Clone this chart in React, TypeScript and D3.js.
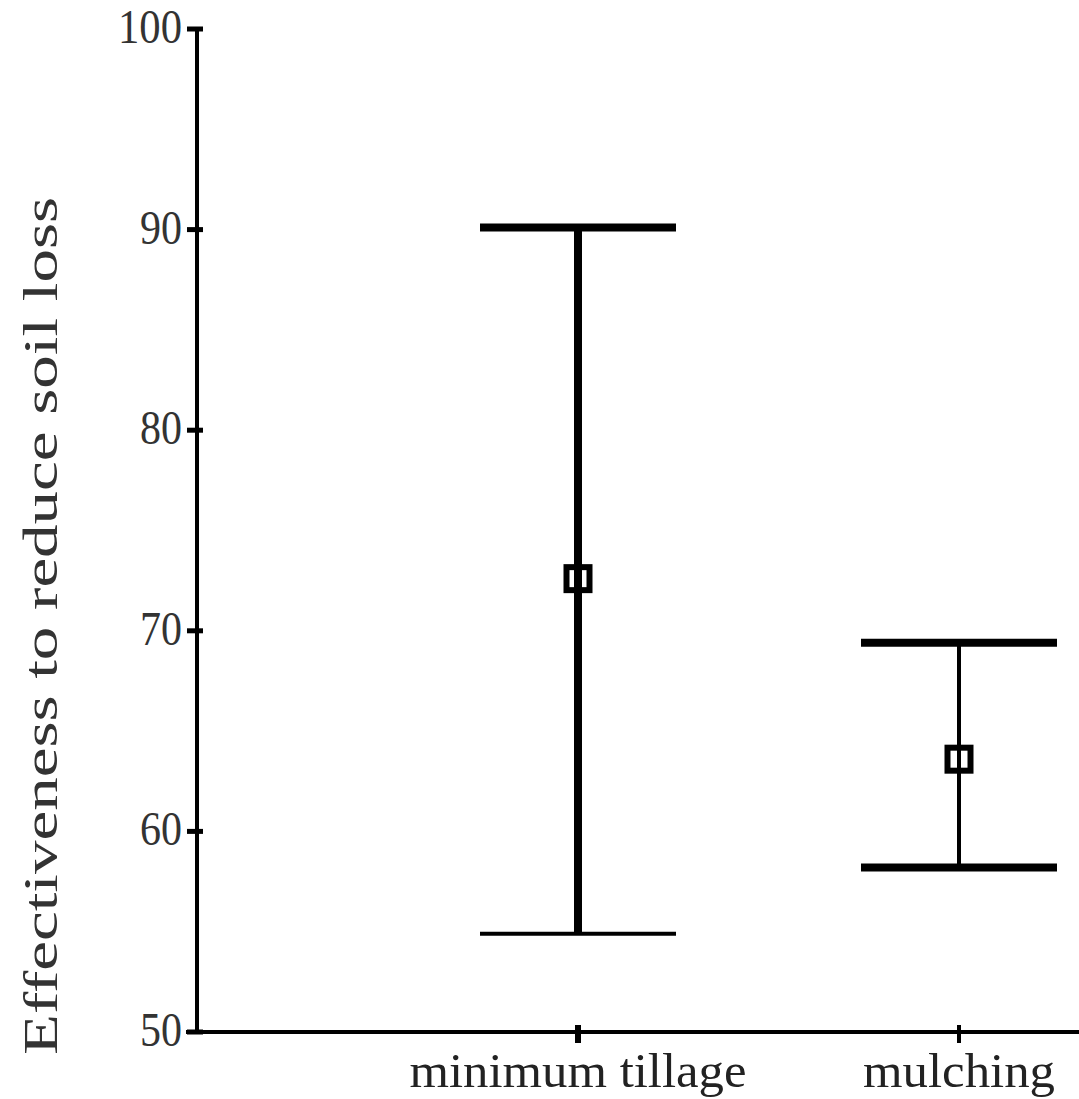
import * as d3 from "d3";

const categories = ["minimum tillage", "mulching"];
const means = [72.6, 63.6];
const upper = [90.1, 69.4];
const lower = [54.9, 58.2];
const yTicks = [50, 60, 70, 80, 90, 100];
const yLabel = "Effectiveness to reduce soil loss";

// line weights per series: [stem, top cap, bottom cap]
const weights = [
	[8, 8, 4],
	[4, 8, 8]
];

const width = 1079;
const height = 1099;
const axisX = 197;
const axisY = 1032;
const font = "'Liberation Serif', 'Times New Roman', serif";

export default function App() {
	const y = d3.scaleLinear().domain([50, 100]).range([axisY, 29]);
	const x = d3.scalePoint<string>().domain(["", ...categories]).range([axisX, 959]);

	const capHalf = 98;
	const box = 23;

	return (
		<svg
			width={width}
			height={height}
			style={{ position: "absolute", left: 0, top: 0, background: "#fff" }}
		>
			{/* y axis */}
			<line x1={axisX} x2={axisX} y1={y(100) - 2} y2={axisY + 2} stroke="#000" strokeWidth={4} />
			{yTicks.map(t => (
				<g key={t}>
					<line x1={axisX - 10} x2={axisX + 6} y1={y(t)} y2={y(t)} stroke="#000" strokeWidth={5} />
					<text
						x={182}
						y={y(t) + 14}
						textAnchor="end"
						fontFamily={font}
						fontSize={48}
						fill="#333"
						textLength={String(t).length === 3 ? 64 : 42}
						lengthAdjust="spacingAndGlyphs"
					>
						{t}
					</text>
				</g>
			))}

			{/* x axis */}
			<line x1={186} x2={width} y1={axisY} y2={axisY} stroke="#000" strokeWidth={4} />
			{categories.map((c, i) => (
				<g key={c}>
					<line
						x1={x(c)}
						x2={x(c)}
						y1={axisY - 7}
						y2={axisY + 11}
						stroke="#000"
						strokeWidth={i === 0 ? 6 : 4}
					/>
					<text
						x={x(c)}
						y={1087}
						textAnchor="middle"
						fontFamily={font}
						fontSize={48}
						fill="#222"
						textLength={i === 0 ? 337 : 192}
						lengthAdjust="spacingAndGlyphs"
					>
						{c}
					</text>
				</g>
			))}

			{/* error bars */}
			{categories.map((c, i) => {
				const cx = x(c) as number;
				const [stem, topW, botW] = weights[i];
				return (
					<g key={"bar-" + c}>
						<line x1={cx - capHalf} x2={cx + capHalf} y1={y(upper[i])} y2={y(upper[i])} stroke="#000" strokeWidth={topW} />
						<line x1={cx - capHalf} x2={cx + capHalf} y1={y(lower[i])} y2={y(lower[i])} stroke="#000" strokeWidth={botW} />
						<rect
							x={cx - box / 2}
							y={y(means[i]) - box / 2}
							width={box}
							height={box}
							fill="#fff"
							stroke="#000"
							strokeWidth={6}
						/>
						<line x1={cx} x2={cx} y1={y(upper[i])} y2={y(lower[i])} stroke="#000" strokeWidth={stem} />
					</g>
				);
			})}

			{/* y label */}
			<text
				transform={`translate(57, ${626}) rotate(-90)`}
				textAnchor="middle"
				fontFamily={font}
				fontSize={48}
				fill="#333"
				textLength={858}
				lengthAdjust="spacingAndGlyphs"
			>
				{yLabel}
			</text>
		</svg>
	);
}
